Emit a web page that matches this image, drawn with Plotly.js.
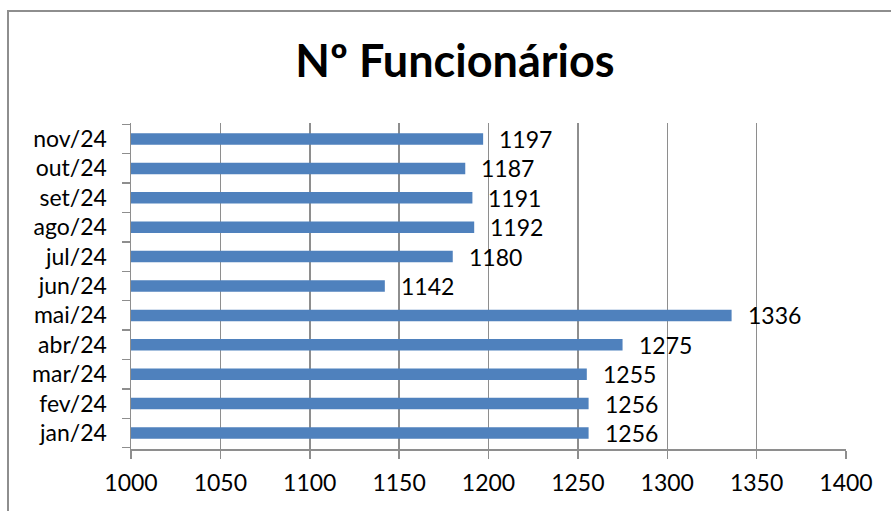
<!DOCTYPE html>
<html>
<head>
<meta charset="utf-8">
<script src="https://cdn.plot.ly/plotly-3.0.1.min.js"></script>
<style>
  html, body { margin: 0; padding: 0; background: #fff; }
  #frame { position: absolute; left: 7px; top: 10px; width: 900px; height: 520px;
           border-left: 2px solid #8e8e8e; border-top: 2px solid #8e8e8e; pointer-events: none; }
  #chart { position: absolute; left: 0; top: 0; width: 891px; height: 511px; }
</style>
</head>
<body>
<div id="chart"></div>
<div id="frame"></div>
<script>
const months = ["jan/24","fev/24","mar/24","abr/24","mai/24","jun/24","jul/24","ago/24","set/24","out/24","nov/24"];
const employees = [1256, 1256, 1255, 1275, 1336, 1142, 1180, 1192, 1191, 1187, 1197];
const xTicks = [1000, 1050, 1100, 1150, 1200, 1250, 1300, 1350, 1400];
const chartTitle = "Nº Funcionários";

const FONT = "Lato, 'Open Sans', sans-serif";
const TICK_SIZE = 23;

const trace = {
  type: "bar",
  orientation: "h",
  x: employees,
  y: months,
  marker: { color: "#4f81bd", line: { width: 0 } },
  hoverinfo: "skip"
};

const annotations = months.map((m, i) => ({
  x: employees[i], y: m, xref: "x", yref: "y",
  text: String(employees[i]),
  showarrow: false, xanchor: "left", yanchor: "middle",
  xshift: 14, yshift: 0,
  font: { family: FONT, size: TICK_SIZE, color: "#000" }
}));

const layout = {
  width: 891, height: 511,
  margin: { l: 131, r: 45, t: 123, b: 62 },
  paper_bgcolor: "#fff", plot_bgcolor: "#fff",
  showlegend: false,
  bargap: 0.61,
  title: {
    text: "<b>" + chartTitle + "</b>",
    x: 455 / 891, xref: "container", xanchor: "center",
    y: 1 - 61 / 511, yref: "container", yanchor: "middle",
    font: { family: FONT, size: 45, color: "#000" }
  },
  xaxis: {
    range: [1000, 1400],
    tickvals: xTicks,
    ticktext: xTicks.map(String),
    showgrid: true, gridcolor: "#8e8e8e", gridwidth: 1.5,
    zeroline: false,
    showline: true, linecolor: "#8e8e8e", linewidth: 1.5,
    ticks: "outside", ticklen: 8, tickcolor: "#8e8e8e", tickwidth: 1.5,
    ticklabelstandoff: 5,
    tickfont: { family: FONT, size: TICK_SIZE, color: "#000" },
    fixedrange: true
  },
  yaxis: {
    type: "category",
    categoryorder: "array", categoryarray: months,
    showgrid: false, zeroline: false,
    showline: true, linecolor: "#8e8e8e", linewidth: 1.5,
    ticks: "outside", ticklen: 8, tickcolor: "#8e8e8e", tickwidth: 1.5,
    tickson: "boundaries",
    ticklabelstandoff: 18,
    tickfont: { family: FONT, size: TICK_SIZE, color: "#000" },
    fixedrange: true
  },
  annotations: annotations
};

Plotly.newPlot("chart", [trace], layout, { displayModeBar: false, staticPlot: true });
</script>
</body>
</html>
